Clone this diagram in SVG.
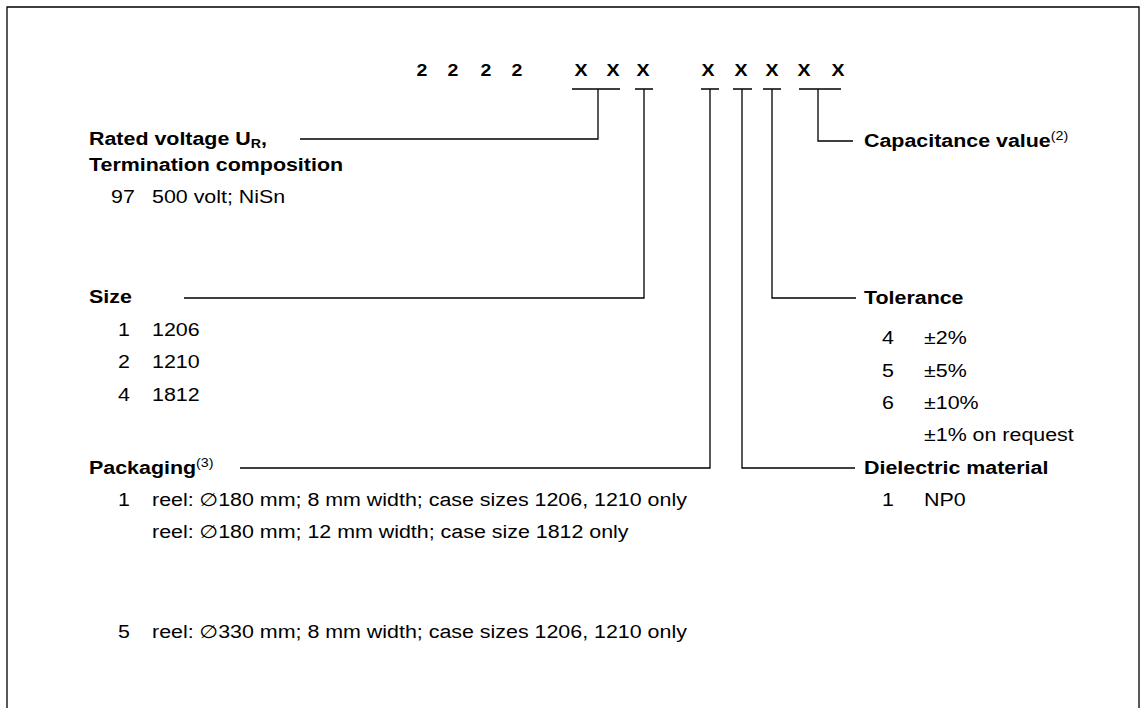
<svg xmlns="http://www.w3.org/2000/svg" width="1141" height="708" viewBox="0 0 1141 708">
<style>
text{font-family:"Liberation Sans","DejaVu Sans",Arial,sans-serif;fill:#000;font-size:18px}
.h{font-weight:bold}
.code{font-weight:bold;font-size:17px;text-anchor:middle}
.c{fill:none;stroke:#000;stroke-width:1.3}
.sub{font-size:12px}
.sup{font-size:12px;font-weight:normal}
</style>
<rect width="1141" height="708" fill="#fff"/>
<path class="c" d="M7,708 V7 H1139 V708" stroke-width="1.6"/>
<g id="code">
<text class="code" transform="translate(422,76) scale(1.15,1)">2</text>
<text class="code" transform="translate(453,76) scale(1.15,1)">2</text>
<text class="code" transform="translate(486,76) scale(1.15,1)">2</text>
<text class="code" transform="translate(517,76) scale(1.15,1)">2</text>
<text class="code" transform="translate(581,76) scale(1.15,1)">X</text>
<text class="code" transform="translate(613,76) scale(1.15,1)">X</text>
<text class="code" transform="translate(643,76) scale(1.15,1)">X</text>
<text class="code" transform="translate(708,76) scale(1.15,1)">X</text>
<text class="code" transform="translate(741,76) scale(1.15,1)">X</text>
<text class="code" transform="translate(772,76) scale(1.15,1)">X</text>
<text class="code" transform="translate(804,76) scale(1.15,1)">X</text>
<text class="code" transform="translate(838,76) scale(1.15,1)">X</text>
</g>
<g id="connectors">
<path class="c" d="M572,89 H620 M598,89 V139 H300"/>
<path class="c" d="M635,89 H653 M644,89 V298 H184"/>
<path class="c" d="M701,89 H719 M710,89 V468 H240"/>
<path class="c" d="M733,89 H752 M742,89 V468 H855"/>
<path class="c" d="M763,89 H781 M772,89 V298 H856"/>
<path class="c" d="M799,89 H841 M818,89 V141 H853"/>
</g>
<g id="rated">
<text class="h" transform="translate(89,145) scale(1.19,1)">Rated voltage U<tspan class="sub" dy="3">R</tspan><tspan dy="-3">,</tspan></text>
<text class="h" transform="translate(89,171) scale(1.19,1)">Termination composition</text>
<text transform="translate(111,203) scale(1.19,1)">97</text>
<text transform="translate(152,203) scale(1.19,1)">500 volt; NiSn</text>
</g>
<g id="size">
<text class="h" transform="translate(89,303) scale(1.19,1)">Size</text>
<text transform="translate(118,336) scale(1.19,1)">1</text><text transform="translate(152,336) scale(1.19,1)">1206</text>
<text transform="translate(118,368) scale(1.19,1)">2</text><text transform="translate(152,368) scale(1.19,1)">1210</text>
<text transform="translate(118,401) scale(1.19,1)">4</text><text transform="translate(152,401) scale(1.19,1)">1812</text>
</g>
<g id="packaging">
<text class="h" transform="translate(89,474) scale(1.19,1)">Packaging<tspan class="sup" dy="-7">(3)</tspan></text>
<text transform="translate(118,506) scale(1.19,1)">1</text>
<text transform="translate(152,506) scale(1.19,1)">reel: ∅180 mm; 8 mm width; case sizes 1206, 1210 only</text>
<text transform="translate(152,538) scale(1.19,1)">reel: ∅180 mm; 12 mm width; case size 1812 only</text>
<text transform="translate(118,638) scale(1.19,1)">5</text>
<text transform="translate(152,638) scale(1.19,1)">reel: ∅330 mm; 8 mm width; case sizes 1206, 1210 only</text>
</g>
<g id="capacitance">
<text class="h" transform="translate(864,147) scale(1.19,1)">Capacitance value<tspan class="sup" dy="-7">(2)</tspan></text>
</g>
<g id="tolerance">
<text class="h" transform="translate(864,304) scale(1.19,1)">Tolerance</text>
<text transform="translate(882,344) scale(1.19,1)">4</text><text transform="translate(924,344) scale(1.19,1)">±2%</text>
<text transform="translate(882,377) scale(1.19,1)">5</text><text transform="translate(924,377) scale(1.19,1)">±5%</text>
<text transform="translate(882,409) scale(1.19,1)">6</text><text transform="translate(924,409) scale(1.19,1)">±10%</text>
<text transform="translate(924,441) scale(1.19,1)">±1% on request</text>
</g>
<g id="dielectric">
<text class="h" transform="translate(864,474) scale(1.19,1)">Dielectric material</text>
<text transform="translate(882,506) scale(1.19,1)">1</text><text transform="translate(924,506) scale(1.19,1)">NP0</text>
</g>
</svg>
